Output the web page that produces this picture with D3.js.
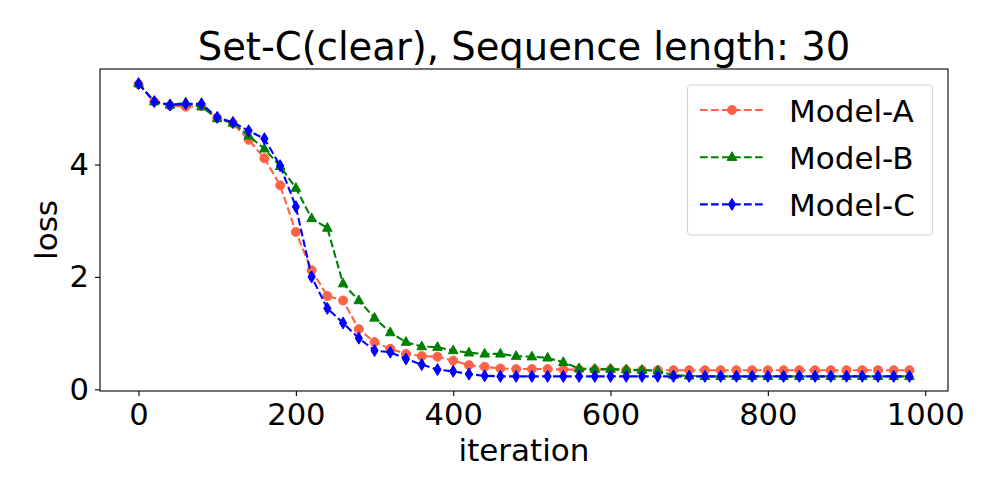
<!DOCTYPE html>
<html>
<head>
<meta charset="utf-8">
<script src="https://cdn.jsdelivr.net/npm/d3@7"></script>
<style>
  body { margin: 0; background: #fff; }
  svg { font-family: "DejaVu Sans", sans-serif; }
</style>
</head>
<body>
<svg width="1000" height="500"></svg>
<script>
var iterations = [0, 20, 40, 60, 80, 100, 120, 140, 160, 180,
                  200, 220, 240, 260, 280, 300, 320, 340, 360, 380,
                  400, 420, 440, 460, 480, 500, 520, 540, 560, 580,
                  600, 620, 640, 660, 680, 700, 720, 740, 760, 780,
                  800, 820, 840, 860, 880, 900, 920, 940, 960, 980];

var modelA = [5.43, 5.12, 5.05, 5.03, 5.04, 4.83, 4.73, 4.44, 4.11, 3.63,
              2.80, 2.12, 1.66, 1.58, 1.07, 0.84, 0.72, 0.63, 0.59, 0.58,
              0.51, 0.43, 0.40, 0.37, 0.36, 0.36, 0.36, 0.35, 0.35, 0.35,
              0.35, 0.34, 0.34, 0.34, 0.34, 0.34, 0.34, 0.34, 0.34, 0.34,
              0.34, 0.34, 0.34, 0.34, 0.34, 0.34, 0.34, 0.34, 0.34, 0.34];

var modelB = [5.44, 5.12, 5.06, 5.10, 5.03, 4.82, 4.74, 4.51, 4.28, 3.97,
              3.58, 3.04, 2.87, 1.88, 1.58, 1.27, 1.01, 0.84, 0.76, 0.75,
              0.69, 0.65, 0.63, 0.63, 0.59, 0.58, 0.56, 0.48, 0.37, 0.36,
              0.36, 0.35, 0.34, 0.33, 0.25, 0.24, 0.23, 0.23, 0.23, 0.23,
              0.23, 0.23, 0.23, 0.23, 0.23, 0.23, 0.23, 0.23, 0.23, 0.23];

var modelC = [5.44, 5.12, 5.06, 5.08, 5.08, 4.84, 4.75, 4.60, 4.46, 3.98,
              3.25, 2.00, 1.44, 1.18, 0.91, 0.69, 0.66, 0.54, 0.44, 0.35,
              0.32, 0.27, 0.24, 0.23, 0.23, 0.23, 0.23, 0.23, 0.23, 0.23,
              0.23, 0.23, 0.23, 0.23, 0.23, 0.23, 0.23, 0.23, 0.23, 0.23,
              0.23, 0.23, 0.23, 0.23, 0.23, 0.23, 0.23, 0.23, 0.23, 0.23];

var seriesNames = ["Model-A", "Model-B", "Model-C"];
var xTicks = [0, 200, 400, 600, 800, 1000];
var yTicks = [0, 2, 4];

var svg = d3.select("svg"),
    margin = {top: 69, right: 52, bottom: 109, left: 100},
    width = +svg.attr("width") - margin.left - margin.right,
    height = +svg.attr("height") - margin.top - margin.bottom,
    g = svg.append("g").attr("transform", "translate(" + margin.left + "," + margin.top + ")");

var series = [
    {name: seriesNames[0], values: modelA, color: "#ff6347", marker: "circle"},
    {name: seriesNames[1], values: modelB, color: "#008000", marker: "triangle"},
    {name: seriesNames[2], values: modelC, color: "#0000ff", marker: "diamond"}
];

// matplotlib style 5% padding
var xExt = d3.extent(iterations), xPad = (xExt[1] - xExt[0]) * 0.05;
var allY = modelA.concat(modelB, modelC);
var yExt = d3.extent(allY), yPad = (yExt[1] - yExt[0]) * 0.05;

var x = d3.scaleLinear().domain([xExt[0] - xPad, xExt[1] + xPad]).range([0, width]);
var y = d3.scaleLinear().domain([yExt[0] - yPad, yExt[1] + yPad]).range([height, 0]);

var markerPath = {
    circle: "M4.5,0A4.5,4.5 0 1,1 -4.5,0A4.5,4.5 0 1,1 4.5,0Z",
    triangle: "M0,-5.5L4.8,3.2L-4.8,3.2Z",
    diamond: "M0,-6L3.6,0L0,6L-3.6,0Z"
};

// axes
var xAxis = g.append("g")
    .attr("transform", "translate(0," + height + ")")
    .call(d3.axisBottom(x).tickValues(xTicks).tickFormat(d3.format("d"))
        .tickSizeInner(5).tickSizeOuter(0).tickPadding(6));
var yAxis = g.append("g")
    .call(d3.axisLeft(y).tickValues(yTicks).tickFormat(d3.format("d"))
        .tickSizeInner(5).tickSizeOuter(0).tickPadding(6));

[xAxis, yAxis].forEach(function(a) {
    a.select(".domain").remove();
    a.selectAll("line").attr("stroke", "#000").attr("stroke-width", 1.1);
    a.selectAll("text").attr("font-size", "30.6px").attr("fill", "#000")
        .attr("font-family", "DejaVu Sans, sans-serif");
});
xAxis.selectAll("text").attr("dy", "0.76em");

// frame
g.append("rect")
    .attr("width", width)
    .attr("height", height)
    .attr("fill", "none")
    .attr("stroke", "#000")
    .attr("stroke-width", 1.1);

var line = d3.line()
    .x(function(d, i) { return x(iterations[i]); })
    .y(function(d) { return y(d); });

var plot = g.append("g");

series.forEach(function(s) {
    plot.append("path")
        .datum(s.values)
        .attr("fill", "none")
        .attr("stroke", s.color)
        .attr("stroke-width", 2.1)
        .attr("stroke-dasharray", "7.7,3.3")
        .attr("d", line);

    plot.selectAll(".m-" + s.marker)
        .data(s.values)
        .enter().append("path")
        .attr("class", "m-" + s.marker)
        .attr("transform", function(d, i) { return "translate(" + x(iterations[i]) + "," + y(d) + ")"; })
        .attr("d", markerPath[s.marker])
        .attr("fill", s.color)
        .attr("stroke", s.color)
        .attr("stroke-width", 1);
});

// title and axis labels
svg.append("text")
    .attr("x", margin.left + width / 2)
    .attr("y", 60)
    .attr("text-anchor", "middle")
    .attr("font-size", "38.5px")
    .text("Set-C(clear), Sequence length: 30");

svg.append("text")
    .attr("x", margin.left + width / 2)
    .attr("y", 461)
    .attr("text-anchor", "middle")
    .attr("font-size", "31px")
    .text("iteration");

svg.append("text")
    .attr("transform", "translate(57," + (margin.top + height / 2) + ") rotate(-90)")
    .attr("text-anchor", "middle")
    .attr("font-size", "31px")
    .text("loss");

// legend
var legend = svg.append("g");
legend.append("rect")
    .attr("x", 687.5)
    .attr("y", 85)
    .attr("width", 245)
    .attr("height", 150)
    .attr("rx", 4)
    .attr("fill", "#fff")
    .attr("fill-opacity", 0.8)
    .attr("stroke", "#d6d6d6")
    .attr("stroke-width", 1.1);

var rows = legend.selectAll(".row")
    .data(series)
    .enter().append("g")
    .attr("class", "row")
    .attr("transform", function(d, i) { return "translate(0," + (110 + i * 47.2) + ")"; });

rows.append("line")
    .attr("x1", 700).attr("x2", 763)
    .attr("stroke", function(d) { return d.color; })
    .attr("stroke-width", 2.1)
    .attr("stroke-dasharray", "7.7,3.3");

rows.append("path")
    .attr("transform", "translate(732,0)")
    .attr("d", function(d) { return markerPath[d.marker]; })
    .attr("fill", function(d) { return d.color; })
    .attr("stroke", function(d) { return d.color; });

rows.append("text")
    .attr("x", 789)
    .attr("y", 11.5)
    .attr("font-size", "31px")
    .text(function(d) { return d.name; });
</script>
</body>
</html>
